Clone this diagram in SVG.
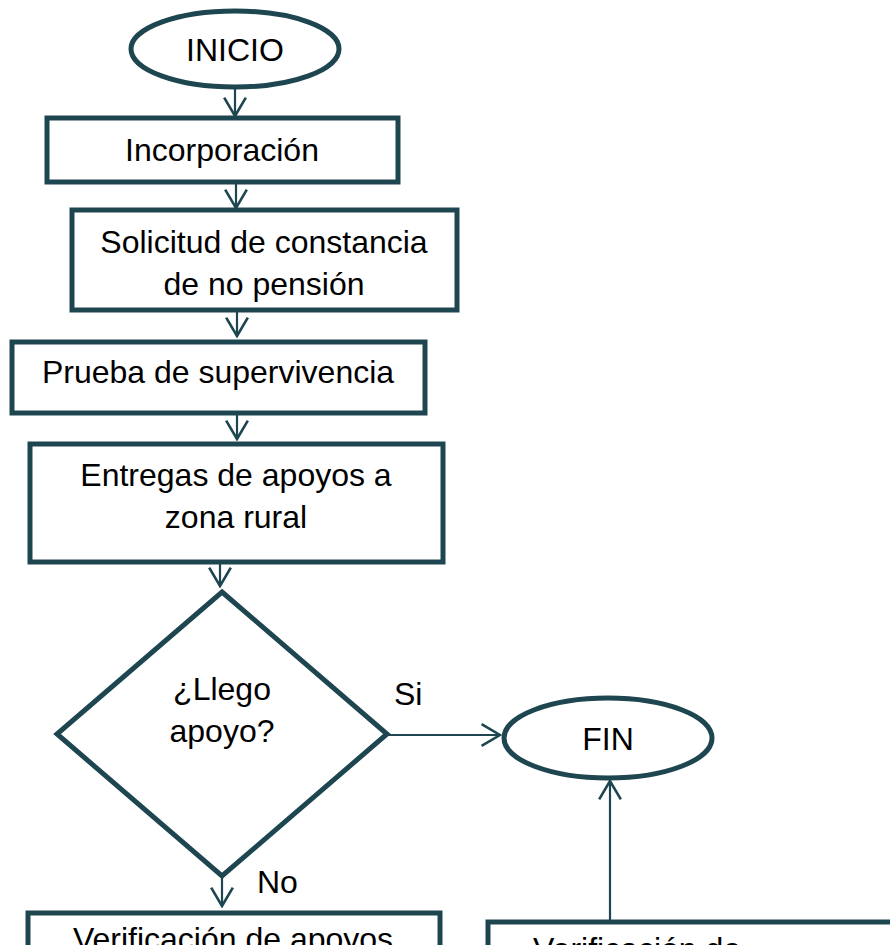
<svg xmlns="http://www.w3.org/2000/svg" width="890" height="945" viewBox="0 0 890 945">
<defs>
<style>
.shape{fill:#ffffff;stroke:#1e4650;stroke-width:5}
.conn{fill:none;stroke:#1e4650;stroke-width:2.2}
.t{font-family:"Liberation Sans",Arial,sans-serif;font-size:32px;fill:#000000;text-anchor:middle}
.lbl{font-family:"Liberation Sans",Arial,sans-serif;font-size:32px;fill:#000000}
</style>
<marker id="arr" markerUnits="userSpaceOnUse" markerWidth="24" markerHeight="26" viewBox="-20 -12 22 24" refX="0" refY="0" orient="auto">
<path d="M-17,-10 L0,0 L-17,10" fill="none" stroke="#1e4650" stroke-width="2.4"/>
</marker>
</defs>
<rect width="890" height="945" fill="#ffffff"/>
<g id="connectors">
<line class="conn" x1="235" y1="88" x2="235" y2="116" marker-end="url(#arr)"/>
<line class="conn" x1="236" y1="182" x2="236" y2="208" marker-end="url(#arr)"/>
<line class="conn" x1="237" y1="310" x2="237" y2="336" marker-end="url(#arr)"/>
<line class="conn" x1="237" y1="413" x2="237" y2="439" marker-end="url(#arr)"/>
<line class="conn" x1="220" y1="562" x2="220" y2="586" marker-end="url(#arr)"/>
<line class="conn" x1="387" y1="735" x2="500" y2="735" marker-end="url(#arr)"/>
<line class="conn" x1="222" y1="876" x2="222" y2="906" marker-end="url(#arr)"/>
<line class="conn" x1="610" y1="920" x2="610" y2="781" marker-end="url(#arr)"/>
<text class="lbl" x="394" y="705">Si</text>
<text class="lbl" x="257" y="893">No</text>
</g>
<g id="inicio">
<ellipse class="shape" cx="235" cy="49" rx="104" ry="38"/>
<text class="t" x="235" y="61">INICIO</text>
</g>
<g id="incorporacion">
<rect class="shape" x="47" y="118" width="351" height="64"/>
<text class="t" x="222" y="161">Incorporación</text>
</g>
<g id="solicitud">
<rect class="shape" x="72" y="210" width="385" height="100"/>
<text class="t" x="264" y="253">Solicitud de constancia</text>
<text class="t" x="264" y="295">de no pensión</text>
</g>
<g id="prueba">
<rect class="shape" x="12" y="342" width="413" height="71"/>
<text class="t" x="218" y="383">Prueba de supervivencia</text>
</g>
<g id="entregas">
<rect class="shape" x="30" y="444" width="413" height="118"/>
<text class="t" x="236" y="486">Entregas de apoyos a</text>
<text class="t" x="236" y="528">zona rural</text>
</g>
<g id="decision">
<polygon class="shape" points="222,592 387,734 222,876 57,734"/>
<text class="t" x="222" y="700">¿Llego</text>
<text class="t" x="222" y="742">apoyo?</text>
</g>
<g id="fin">
<ellipse class="shape" cx="608" cy="738" rx="104" ry="40"/>
<text class="t" x="608" y="750">FIN</text>
</g>
<g id="verificacion1">
<rect class="shape" x="28" y="913" width="412" height="100"/>
<text class="t" x="233" y="950">Verificación de apoyos</text>
</g>
<g id="verificacion2">
<rect class="shape" x="488" y="922" width="440" height="100"/>
<text class="lbl" x="533" y="960">Verificación de</text>
</g>
</svg>
